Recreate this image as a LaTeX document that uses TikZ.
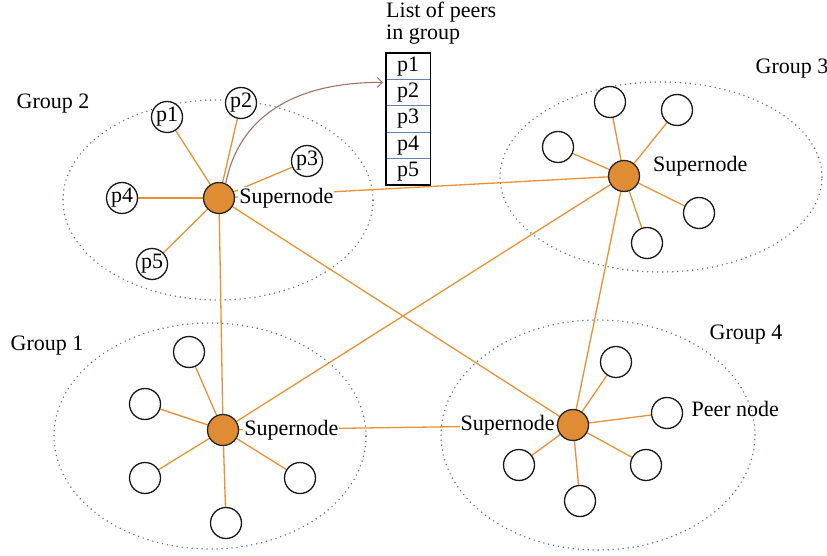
\documentclass[tikz,border=0pt]{standalone}
\usepackage{fontspec}
\setmainfont{Liberation Serif}
\usetikzlibrary{arrows.meta,backgrounds}
\definecolor{orangeline}{RGB}{232,146,52}
\definecolor{superfill}{RGB}{224,140,52}
\definecolor{dotcol}{RGB}{90,110,140}
\definecolor{sepblue}{RGB}{100,130,170}
\definecolor{arrowbrown}{RGB}{160,115,100}
\begin{document}
\begin{tikzpicture}[x=1pt,y=-1pt,
  font=\fontsize{22}{22}\selectfont,
  peer/.style={circle,draw=black!90,line width=1.3pt,fill=white,minimum size=31pt,inner sep=0pt},
  super/.style={circle,draw=black!85,line width=1.3pt,fill=superfill,minimum size=31pt,inner sep=0pt},
  link/.style={draw=orangeline,line width=1.3pt},
  grp/.style={draw=dotcol,line width=1.6pt,dash pattern=on 0pt off 5pt,line cap=round},
  lbl/.style={fill=white,inner sep=1pt},
  listrow/.style={minimum width=44pt,minimum height=26pt,inner sep=0pt}]
\useasboundingbox (0,0) rectangle (827,556);

% Group 2
\node[super] (s2) at (219,198) {};
\node[peer] (g2p1) at (167,117) {p1};
\node[peer] (g2p2) at (241,103) {p2};
\node[peer] (g2p3) at (307,161) {p3};
\node[peer] (g2p4) at (122,198) {p4};
\node[peer] (g2p5) at (152,264) {p5};
\node[lbl,anchor=west] (s2l) at ([xshift=3pt]s2.east) {Supernode};
\node (g2l) at (53,104) {Group 2};

% Group 3
\node[super] (s3) at (624,176) {};
\node[peer] (g3a) at (610,102) {};
\node[peer] (g3b) at (677,110) {};
\node[peer] (g3c) at (558,147) {};
\node[peer] (g3d) at (699,213) {};
\node[peer] (g3e) at (647,243) {};
\node[lbl,anchor=west] (s3l) at (652,166) {Supernode};
\node (g3l) at (792,69) {Group 3};

% Group 1
\node[super] (s1) at (223,430) {};
\node[peer] (g1a) at (189,352) {};
\node[peer] (g1b) at (145,404) {};
\node[peer] (g1c) at (145,478) {};
\node[peer] (g1d) at (300,478) {};
\node[peer] (g1e) at (226,523) {};
\node[lbl,anchor=west] (s1l) at ([xshift=4pt]s1.east) {Supernode};
\node (g1l) at (47,346) {Group 1};

% Group 4
\node[super] (s4) at (573,425) {};
\node[peer] (g4a) at (616,362) {};
\node[peer] (g4b) at (667,413) {};
\node[peer] (g4c) at (519,465) {};
\node[peer] (g4d) at (646,465) {};
\node[peer] (g4e) at (580,501) {};
\node[lbl,anchor=east] (s4l) at ([xshift=-1pt]s4.west) {Supernode};
\node[anchor=west] (pnl) at (688,409) {Peer node};
\node (g4l) at (746,335) {Group 4};

% List of peers
\node[anchor=south west,align=left,inner sep=0pt] (lt) at (386,44) {List of peers\\in group};
\node[listrow,anchor=north west] (l1) at (386,53) {p1};
\node[listrow,anchor=north] (l2) at (l1.south) {p2};
\node[listrow,anchor=north] (l3) at (l2.south) {p3};
\node[listrow,anchor=north] (l4) at (l3.south) {p4};
\node[listrow,anchor=north] (l5) at (l4.south) {p5};
\foreach \r in {l1,l2,l3,l4}{
  \draw[sepblue,line width=1pt] (\r.south west) -- (\r.south east);
}
\draw[black,line width=1.2pt] (l1.north west) rectangle (l5.south east);

\draw[arrowbrown,line width=1.1pt,-{Straight Barb[length=5pt,width=10pt]}]
  (s2.65) .. controls (238,120) and (290,82) .. ([xshift=-3pt,yshift=-3pt]l1.south west);

\begin{pgfonlayer}{background}
  \draw[grp] (218,200) ellipse [x radius=155pt, y radius=100pt];
  \draw[grp] (661,177) ellipse [x radius=161pt, y radius=95pt];
  \draw[grp] (210,436) ellipse [x radius=156pt, y radius=113pt];
  \draw[grp] (598,435) ellipse [x radius=157pt, y radius=115pt];
  \foreach \p in {g2p1,g2p2,g2p3,g2p4,g2p5}{ \draw[link] (s2) -- (\p); }
  \foreach \p in {g3a,g3b,g3c,g3d,g3e}{ \draw[link] (s3) -- (\p); }
  \foreach \p in {g1a,g1b,g1c,g1d,g1e}{ \draw[link] (s1) -- (\p); }
  \foreach \p in {g4a,g4b,g4c,g4d,g4e}{ \draw[link] (s4) -- (\p); }
  \draw[link] (s2) -- (s3);
  \draw[link] (s2) -- (s1);
  \draw[link] (s2) -- (s4);
  \draw[link] (s1) -- (s3);
  \draw[link] (s1) -- (s4);
  \draw[link] (s3) -- (s4);
\end{pgfonlayer}
\end{tikzpicture}
\end{document}
